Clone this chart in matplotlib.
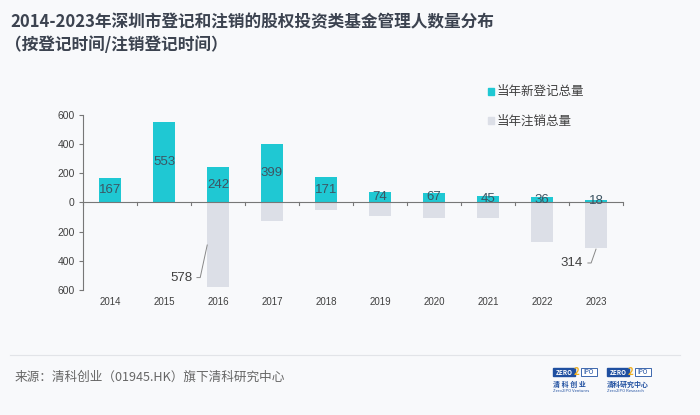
import numpy as np
import matplotlib.pyplot as plt
from matplotlib.patches import Rectangle

plt.rcParams['font.family'] = ['Noto Sans CJK SC', 'DejaVu Sans']

# data
years = ['2014', '2015', '2016', '2017', '2018', '2019', '2020', '2021', '2022', '2023']
new_reg = [167, 553, 242, 399, 171, 74, 67, 45, 36, 18]
cancelled = [0, 0, 578, 125, 53, 91, 110, 110, 274, 314]
yticks = [-600, -400, -200, 0, 200, 400, 600]
ytick_labels = ['600', '400', '200', '0', '200', '400', '600']
callout_idx = [2, 9]  # years whose cancellation count is labelled

teal = '#1fc8d3'
grey_bar = '#dcdfe7'
bg = '#f8f9fb'
txt = '#404040'

fig = plt.figure(figsize=(7, 4.15), dpi=100, facecolor=bg)
ax = fig.add_axes([0.1186, 0.3012, 0.7714, 0.4224], facecolor=bg)

x = np.arange(len(years))
ax.bar(x, [-v for v in cancelled], width=0.4, color=grey_bar, zorder=2)
ax.bar(x, new_reg, width=0.4, color=teal, zorder=3)

for xi, v in zip(x, new_reg):
    ax.text(xi, v / 2, str(v), ha='center', va='center',
            fontsize=9.5, color='#3d5563', family='Liberation Sans', zorder=6)

ax.set_xlim(-0.5, len(years) - 0.5)
ax.set_ylim(-600, 600)
ax.set_yticks(yticks)
ax.set_yticklabels(ytick_labels, fontsize=7.5, color=txt, family='Liberation Sans')
ax.tick_params(axis='y', length=3, color='#777777', pad=3)
ax.set_xticks([])
for s in ['top', 'right', 'bottom']:
    ax.spines[s].set_visible(False)
ax.spines['left'].set_color('#777777')
ax.spines['left'].set_linewidth(0.8)

# zero line with category-boundary ticks
ax.axhline(0, color='#777777', lw=0.8, zorder=5)
for b in np.arange(-0.5, len(years), 1.0):
    ax.plot([b, b], [0, -18], color='#777777', lw=0.8, zorder=5, clip_on=False)

for xi, y in zip(x, years):
    ax.text(xi, -680, y, ha='center', va='center', fontsize=7, color=txt,
            family='Liberation Sans', clip_on=False)

# callouts for big cancellations: text offset from the bar, leader line up to the bar
for i, (dx_txt, dy_txt, x_tip, y_tip) in zip(callout_idx,
                                             [(-0.48, 63, -0.2, 0.505), (-0.24, -101, 0.0, 1.02)]):
    v = cancelled[i]
    tx, ty = i + dx_txt, -v + dy_txt
    ax.text(tx, ty, str(v), fontsize=9.5, color=txt, family='Liberation Sans',
            ha='right', va='center')
    ax.plot([tx + 0.09, tx + 0.15, i + x_tip], [ty, ty, -v * y_tip],
            color='#888888', lw=0.7, clip_on=False)

# legend
fig.patches.append(Rectangle((488 / 700, 1 - 95 / 415), 6 / 700, 7 / 415,
                             transform=fig.transFigure, color=teal))
fig.text(497 / 700, 1 - 91 / 415, '当年新登记总量', fontsize=9, color=txt, va='center')
fig.patches.append(Rectangle((488 / 700, 1 - 124 / 415), 6 / 700, 7 / 415,
                             transform=fig.transFigure, color=grey_bar))
fig.text(497 / 700, 1 - 121 / 415, '当年注销总量', fontsize=9, color=txt, va='center')

# title
fig.text(10 / 700, 1 - 22 / 415, '2014-2023年深圳市登记和注销的股权投资类基金管理人数量分布',
         fontsize=12, fontweight='bold', color='#3c4350', va='center')
fig.text(5 / 700, 1 - 45 / 415, '（按登记时间/注销登记时间）',
         fontsize=12, fontweight='bold', color='#3c4350', va='center')

# footer
fig.add_artist(plt.Line2D([10 / 700, 680 / 700], [1 - 355 / 415, 1 - 355 / 415],
                          color='#e2e4e8', lw=0.8, transform=fig.transFigure))
fig.text(15 / 700, 1 - 377 / 415, '来源：清科创业（01945.HK）旗下清科研究中心',
         fontsize=9.1, color='#666666', va='center')

# logos (simple text marks)
for lx, cn, en in [(553, '清 科 创 业', 'Zero2IPO Ventures'), (607, '清科研究中心', 'Zero2IPO Research')]:
    fig.patches.append(Rectangle((lx / 700, 1 - 376 / 415), 22 / 700, 8 / 415,
                                 transform=fig.transFigure, color='#1f4fa0'))
    fig.text((lx + 11) / 700, 1 - 372 / 415, 'ZERO', fontsize=4.5, color='white',
             fontweight='bold', ha='center', va='center')
    fig.text((lx + 24) / 700, 1 - 372 / 415, '2', fontsize=7, color='#f0b020',
             fontweight='bold', ha='center', va='center')
    fig.patches.append(Rectangle(((lx + 28) / 700, 1 - 376 / 415), 16 / 700, 8 / 415,
                                 transform=fig.transFigure, facecolor='white',
                                 edgecolor='#1f4fa0', lw=0.6))
    fig.text((lx + 36) / 700, 1 - 372 / 415, 'IPO', fontsize=4.5, color='#1f4fa0',
             ha='center', va='center')
    fig.text(lx / 700, 1 - 384 / 415, cn, fontsize=5, color='#1f4fa0',
             fontweight='bold', va='center')
    fig.text(lx / 700, 1 - 391 / 415, en, fontsize=3, color='#1f4fa0', va='center')

fig.savefig('out.png', dpi=100, facecolor=bg)
